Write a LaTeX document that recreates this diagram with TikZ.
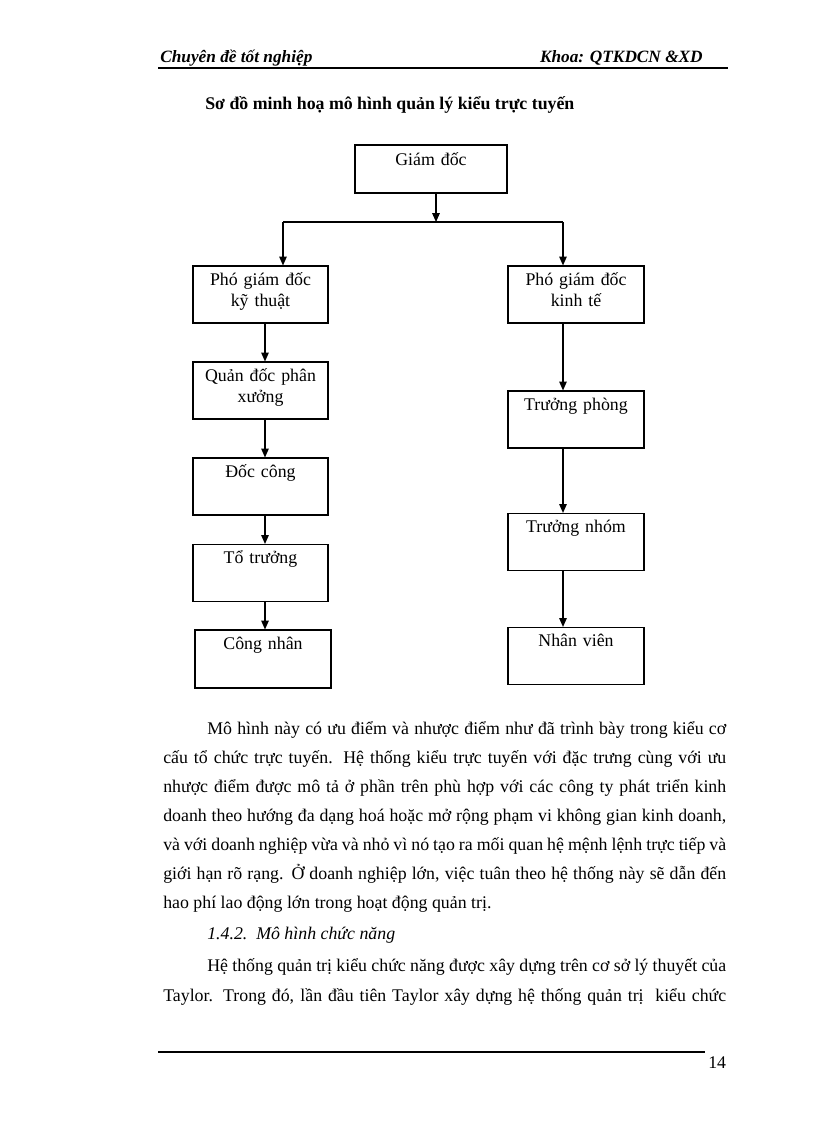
\documentclass[tikz,border=0pt]{standalone}
\usepackage{fontspec}
\setmainfont{Liberation Serif}
\usepackage{tikz}
\usetikzlibrary{arrows.meta, positioning}

\tikzset{
    box/.style={draw, line width=0.8pt, inner xsep=0pt, inner ysep=0pt,
        align=center, text height=14pt, text depth=27.6pt},
    arr/.style={-{Triangle[length=6.5pt,width=5.5pt]}, line width=0.9pt},
    hdr/.style={anchor=base west, inner sep=0pt,
        font=\fontsize{12.6}{14}\selectfont\bfseries\itshape},
    txt/.style={anchor=base west, inner sep=0pt}
}

\begin{document}
\begin{tikzpicture}[x=0.7295pt, y=-0.7295pt, font=\fontsize{13}{15.3}\selectfont]

    \useasboundingbox[fill=white] (0,0) rectangle (816,1123);

    % HEADER
    \node[hdr] (hleft) at (160,62) {Chuyên đề tốt nghiệp};
    \node[hdr, anchor=base east] (hright) at (703,62) {Khoa: QTKDCN \&XD};
    \draw[line width=1.4pt] (158,68) -- (728,68);

    % TITLE
    \node[txt, font=\fontsize{13}{15.3}\selectfont\bfseries] (title) at (205,109)
        {Sơ đồ minh hoạ mô hình quản lý kiểu trực tuyến};

    % BOXES
    \node[box, text width=110.9pt, text height=15.2pt, text depth=19.8pt] (gd) at (431,169) {Giám đốc};

    \node[box, text width=98.5pt] (pgdkt) at (260.5,294.5) {Phó giám đốc\\kỹ thuật};
    \node[box, text width=98.5pt] (qd)    at (260.5,390.5) {Quản đốc phân\\xưởng};
    \node[box, text width=98.5pt] (dc)    at (260.5,486.5) {Đốc công};
    \node[box, text width=98.5pt] (tt)    at (260.5,573)   {Tổ trưởng};
    \node[box, text width=99.2pt, text depth=28.3pt] (cn) at (263,659) {Công nhân};

    \node[box, text width=99.2pt] (pgdkte) at (576,294.5) {Phó giám đốc\\kinh tế};
    \node[box, text width=99.2pt] (tp)     at (576,419.5) {Trưởng phòng};
    \node[box, text width=99.2pt] (tn)     at (576,542)   {Trưởng nhóm};
    \node[box, text width=99.2pt] (nv)     at (576,656)   {Nhân viên};

    % CONNECTORS
    \coordinate (busl) at (283,222);
    \coordinate (busm) at (436,222);
    \coordinate (busr) at (563,222);
    \coordinate (colL) at (265,0);
    \coordinate (colR) at (563,0);

    \draw[arr] (gd.south -| busm) -- (busm);
    \draw[line width=1.3pt] (busl) -- (busr);
    \draw[arr] (busl) -- (busl |- pgdkt.north);
    \draw[arr] (busr) -- (busr |- pgdkte.north);

    \foreach \a/\b in {pgdkt/qd, qd/dc, dc/tt, tt/cn}{
        \draw[arr] (\a.south -| colL) -- (\b.north -| colL);
    }
    \foreach \a/\b in {pgdkte/tp, tp/tn, tn/nv}{
        \draw[arr] (\a.south -| colR) -- (\b.north -| colR);
    }

    % BODY TEXT
    \node[txt] (l1) at (207,734) {\makebox[378.6pt][s]{Mô hình này có ưu điểm và nhược điểm như đã trình bày trong kiểu cơ}};
    \node[txt] (l2) at (163,763) {\makebox[410.7pt][s]{cấu tổ chức trực tuyến. Hệ thống kiểu trực tuyến với đặc trưng cùng với ưu}};
    \node[txt] (l3) at (163,792) {\makebox[410.7pt][s]{nhược điểm được mô tả ở phần trên phù hợp với các công ty phát triển kinh}};
    \node[txt] (l4) at (163,821) {\makebox[410.7pt][s]{doanh theo hướng đa dạng hoá hoặc mở rộng phạm vi không gian kinh doanh,}};
    \node[txt] (l5) at (163,850) {\makebox[410.7pt][s]{và với doanh nghiệp vừa và nhỏ vì nó tạo ra mối quan hệ mệnh lệnh trực tiếp và}};
    \node[txt] (l6) at (163,879) {\makebox[410.7pt][s]{giới hạn rõ rạng. Ở doanh nghiệp lớn, việc tuân theo hệ thống này sẽ dẫn đến}};
    \node[txt] (l7) at (163,908) {hao phí lao động lớn trong hoạt động quản trị.};

    \node[txt, font=\fontsize{13}{15.3}\selectfont\itshape] (sec) at (207,939) {1.4.2.\, Mô hình chức năng};

    \node[txt] (l8) at (207,971) {\makebox[378.6pt][s]{Hệ thống quản trị kiểu chức năng được xây dựng trên cơ sở lý thuyết của}};
    \node[txt] (l9) at (163,1001) {\makebox[410.7pt][s]{Taylor. Trong đó, lần đầu tiên Taylor xây dựng hệ thống quản trị\ \ kiểu chức}};

    % FOOTER
    \draw[line width=0.9pt] (158,1052) -- (705,1052);
    \node[txt] (pg) at (708,1068) {14};

\end{tikzpicture}
\end{document}
